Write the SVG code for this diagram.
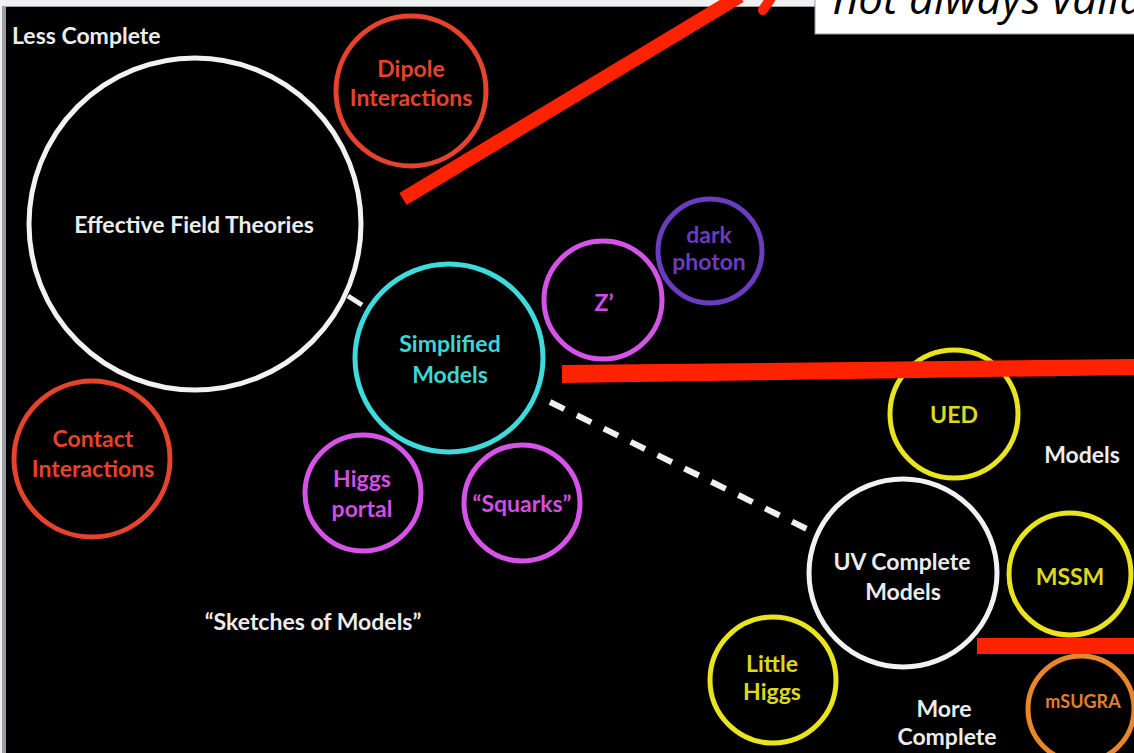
<svg xmlns="http://www.w3.org/2000/svg" width="1134" height="753" viewBox="0 0 1134 753">
  <style>
    .lbl { font-family: Lato, "Open Sans", "DejaVu Sans", sans-serif; font-weight: 700; font-size: 23px; text-anchor: middle; }
    .ring { fill: none; stroke-width: 5; }
    .red { stroke: #e5432c; } .redt { fill: #e5432c; }
    .wht { stroke: #f2f2f2; } .whtt { fill: #ececec; }
    .cyn { stroke: #3fdadc; } .cynt { fill: #3fd4d6; }
    .mag { stroke: #d653e8; } .magt { fill: #d04fe2; }
    .pur { stroke: #6a3cc0; } .purt { fill: #6a3cc0; }
    .yel { stroke: #e9e41e; } .yelt { fill: #dcd81c; }
    .org { stroke: #e8862a; } .orgt { fill: #e0802a; }
    .anno { stroke: #ff2200; stroke-linecap: butt; fill: none; }
  </style>
  <!-- background -->
  <rect x="0" y="0" width="1134" height="753" fill="#eef0f2"/>
  <rect x="2" y="6" width="1132" height="747" fill="#9aa0a6"/>
  <rect x="6" y="7" width="1128" height="746" fill="#000"/>

  <!-- connectors -->
  <g id="connectors">
    <line x1="348" y1="296" x2="362" y2="305" stroke="#f0f0f0" stroke-width="5"/>
    <line x1="550" y1="402" x2="815" y2="533" stroke="#f0f0f0" stroke-width="6" stroke-dasharray="16 14"/>
  </g>

  <g id="less-complete"><text class="lbl whtt" x="12" y="44" style="text-anchor:start">Less Complete</text></g>

  <g id="dipole">
    <circle class="ring red" cx="411" cy="91" r="75"/>
    <text class="lbl redt" x="411" y="77">Dipole</text>
    <text class="lbl redt" x="411" y="106">Interactions</text>
  </g>

  <g id="eft">
    <circle class="ring wht" cx="195" cy="224" r="166"/>
    <text class="lbl whtt" x="194" y="233">Effective Field Theories</text>
  </g>

  <g id="simplified">
    <circle class="ring cyn" cx="449" cy="358" r="94"/>
    <text class="lbl cynt" x="450" y="352">Simplified</text>
    <text class="lbl cynt" x="450" y="383">Models</text>
  </g>

  <g id="zprime">
    <circle class="ring mag" cx="603" cy="300" r="59"/>
    <text class="lbl magt" x="604" y="311">Z’</text>
  </g>

  <g id="dark-photon">
    <circle class="ring pur" cx="710" cy="251" r="52"/>
    <text class="lbl purt" x="709" y="243">dark</text>
    <text class="lbl purt" x="709" y="270">photon</text>
  </g>

  <g id="contact">
    <circle class="ring red" cx="92" cy="459" r="78"/>
    <text class="lbl redt" x="93" y="447">Contact</text>
    <text class="lbl redt" x="93" y="477">Interactions</text>
  </g>

  <g id="higgs-portal">
    <circle class="ring mag" cx="363" cy="493" r="58"/>
    <text class="lbl magt" x="362" y="487">Higgs</text>
    <text class="lbl magt" x="362" y="517">portal</text>
  </g>

  <g id="squarks">
    <circle class="ring mag" cx="522" cy="503" r="58"/>
    <text class="lbl magt" x="522" y="512">“Squarks”</text>
  </g>

  <g id="sketches"><text class="lbl whtt" x="313" y="630">“Sketches of Models”</text></g>

  <g id="ued">
    <circle class="ring yel" cx="954" cy="414" r="64"/>
    <text class="lbl yelt" x="954" y="423">UED</text>
  </g>

  <g id="models-label"><text class="lbl whtt" x="1082" y="463">Models</text></g>

  <g id="uv-complete">
    <circle class="ring wht" cx="903" cy="573" r="94"/>
    <text class="lbl whtt" x="902" y="570">UV Complete</text>
    <text class="lbl whtt" x="903" y="600">Models</text>
  </g>

  <g id="mssm">
    <circle class="ring yel" cx="1070" cy="574" r="61"/>
    <text class="lbl yelt" x="1070" y="585">MSSM</text>
  </g>

  <g id="msugra">
    <circle class="ring org" cx="1081" cy="709" r="53"/>
    <text class="lbl orgt" x="1083" y="708" style="font-size:18px">mSUGRA</text>
  </g>

  <g id="little-higgs">
    <circle class="ring yel" cx="773" cy="680" r="63"/>
    <text class="lbl yelt" x="772" y="672">Little</text>
    <text class="lbl yelt" x="772" y="700">Higgs</text>
  </g>

  <g id="more-complete">
    <text class="lbl whtt" x="944" y="717">More</text>
    <text class="lbl whtt" x="947" y="745">Complete</text>
  </g>

  <!-- annotation overlay -->
  <g id="annotations">
    <rect x="815" y="-2" width="322" height="36" fill="#fff" stroke="#9a9a9a" stroke-width="1"/>
    <text x="833" y="14" font-family="'Open Sans', 'Liberation Sans', sans-serif" font-style="italic" font-size="44" fill="#000">not always valid</text>
    <line class="anno" x1="403" y1="199" x2="740" y2="-4" stroke-width="14"/>
    <line x1="771" y1="-2" x2="763" y2="10" stroke="#ff2200" stroke-width="10" stroke-linecap="round"/>
    <polygon points="562,365 1134,359 1134,375 562,383" fill="#ff2200"/>
    <rect x="977" y="638" width="157" height="16" fill="#ff2200"/>
  </g>
</svg>
